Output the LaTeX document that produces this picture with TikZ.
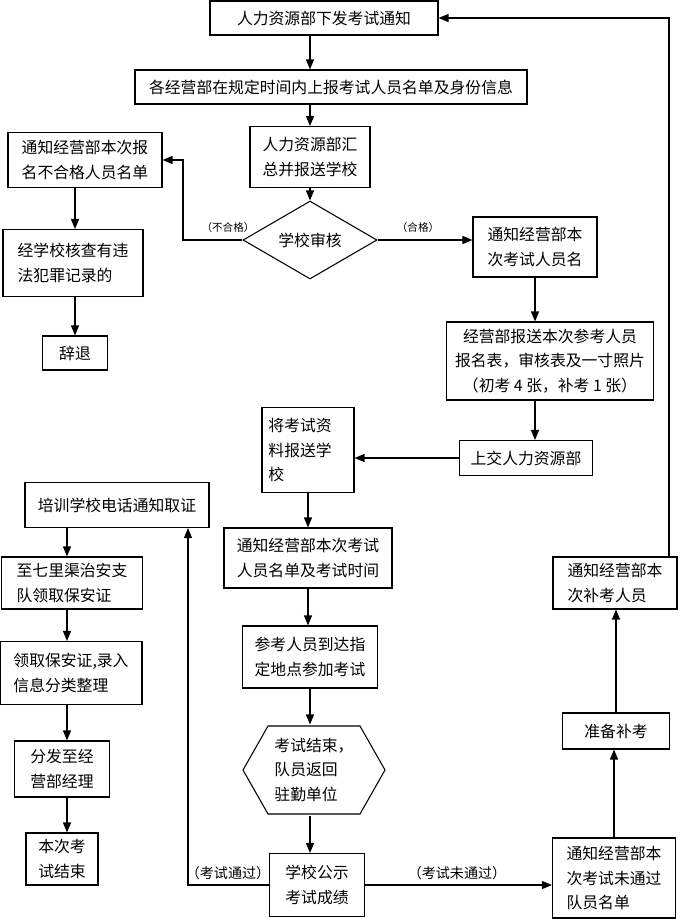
\documentclass[tikz,border=0pt]{standalone}
\usepackage{fontspec}
\newfontfamily\cjk{Noto Sans CJK SC}
\usetikzlibrary{arrows.meta,shapes.geometric}
\newcommand{\pxw}[1]{#1*0.03cm}
\tikzset{
	stepbox/.style={draw, line width=0.9pt, font=\cjk\fontsize{13.5}{21}\selectfont, align=left, inner sep=0pt},
	flow/.style={-{Triangle[length=0.3cm,width=0.24cm]}, line width=1pt},
	note/.style={font=\cjk\fontsize{9}{11}\selectfont},
	bignote/.style={font=\cjk\fontsize{12}{14}\selectfont},
}
\begin{document}
\begin{tikzpicture}[x=0.03cm, y=-0.03cm]
		\useasboundingbox (0,0) rectangle (684,919);
		\node (hr) at (324,18) [stepbox, minimum width=\pxw{228}, minimum height=\pxw{34}] {人力资源部下发考试通知};
		\node (report) at (331,87) [stepbox, minimum width=\pxw{392}, minimum height=\pxw{34}] {各经营部在规定时间内上报考试人员名单及身份信息};
		\node (collect) at (310,157) [stepbox, minimum width=\pxw{120}, minimum height=\pxw{61}] {人力资源部汇\\总并报送学校};
		\node (check) at (310,240) [diamond, draw, line width=0.9pt, inner sep=0pt, minimum width=\pxw{134}, minimum height=\pxw{56}, font=\cjk\fontsize{13.5}{21}\selectfont] {学校审核};
		\node (unfit) at (85,160) [stepbox, minimum width=\pxw{154}, minimum height=\pxw{55}] {通知经营部本次报\\名不合格人员名单};
		\node (crime) at (73,263) [stepbox, minimum width=\pxw{140}, minimum height=\pxw{67}] {经学校核查有违\\法犯罪记录的};
		\node (dismiss) at (75,353) [stepbox, minimum width=\pxw{65}, minimum height=\pxw{34}] {辞退};
		\node (notice) at (535,247) [stepbox, minimum width=\pxw{124}, minimum height=\pxw{60}] {通知经营部本\\次考试人员名};
		\node (submit) at (550,361) [stepbox, align=center, minimum width=\pxw{207}, minimum height=\pxw{78}] {经营部报送本次参考人员\\报名表，审核表及一寸照片\\（初考 4 张，补考 1 张）};
		\node (handin) at (526,458) [stepbox, minimum width=\pxw{133}, minimum height=\pxw{35}] {上交人力资源部};
		\node (send) at (308,450) [stepbox, minimum width=\pxw{92}, minimum height=\pxw{85}] {将考试资\\料报送学\\校\phantom{送学考试}};
		\node (cert) at (117,505) [stepbox, minimum width=\pxw{184}, minimum height=\pxw{45}] {培训学校电话通知取证};
		\node (inform) at (308,558) [stepbox, minimum width=\pxw{168}, minimum height=\pxw{60}] {通知经营部本次考试\\人员名单及考试时间};
		\node (arrive) at (310,657) [stepbox, minimum width=\pxw{135}, minimum height=\pxw{62}] {参考人员到达指\\定地点参加考试};
		\node (hex) at (314,770) [stepbox, draw=none, minimum width=\pxw{142}, minimum height=\pxw{90}] {考试结束，\\队员返回\\驻勤单位};
		\draw[line width=0.9pt] (243,770) -- (268,726) -- (360,726) -- (385,770) -- (360,814) -- (268,814) -- cycle;
		\node (publish) at (317,885) [stepbox, minimum width=\pxw{95}, minimum height=\pxw{63}] {学校公示\\考试成绩};
		\node (fail) at (614,878) [stepbox, minimum width=\pxw{123}, minimum height=\pxw{80}] {通知经营部本\\次考试未通过\\队员名单\phantom{考试}};
		\node (prep) at (616,731) [stepbox, minimum width=\pxw{107}, minimum height=\pxw{36}] {准备补考};
		\node (retake) at (615,583) [stepbox, minimum width=\pxw{124}, minimum height=\pxw{52}] {通知经营部本\\次补考人员};
		\node (station) at (72,583) [stepbox, minimum width=\pxw{141}, minimum height=\pxw{52}] {至七里渠治安支\\队领取保安证};
		\node (record) at (71,673) [stepbox, minimum width=\pxw{142}, minimum height=\pxw{63}] {领取保安证,录入\\信息分类整理};
		\node (hand) at (62,769) [stepbox, minimum width=\pxw{95}, minimum height=\pxw{56}] {分发至经\\营部经理};
		\node (finish) at (62,859) [stepbox, minimum width=\pxw{72}, minimum height=\pxw{52}] {本次考\\试结束};
		\coordinate (nofit) at (183,160);
		\coordinate (passturn) at (188,882);
		\coordinate (loop) at (669,20);
		\coordinate (leftcol) at (67,0);
		\draw[flow] (hr.south -| collect) -- (report.north -| collect);
		\draw[flow] (report.south -| collect) -- (collect.north);
		\draw[flow] (collect.south) -- (check.north);
		\draw[flow] (check.west) -| (nofit) -- (unfit.east);
		\node (notfit) at (228,227) [note] {（不合格）};
		\draw[flow] (check.east) -- (check.east -| notice.west);
		\node (fit) at (418,227) [note] {（合格）};
		\draw[flow] (unfit.south -| dismiss) -- (crime.north -| dismiss);
		\draw[flow] (crime.south -| dismiss) -- (dismiss.north);
		\draw[flow] (notice.south) -- (notice.south |- submit.north);
		\draw[flow] (submit.south -| notice) -- (handin.north -| notice);
		\draw[flow] (handin.west) -- (handin.west -| send.east);
		\draw[flow] (send.south) -- (send.south |- inform.north);
		\draw[flow] (inform.south) -- (inform.south |- arrive.north);
		\draw[flow] (arrive.south) -- (arrive.south |- hex.north);
		\draw[flow] (hex.south -| arrive) -- (publish.north -| arrive);
		\draw[flow] (publish.west) -| (passturn |- cert.south);
		\node (passed) at (228,873) [bignote] {（考试通过）};
		\draw[flow] (publish.east) -- (publish.east -| fail.west);
		\node (failed) at (457,873) [bignote] {（考试未通过）};
		\draw[flow] (fail.north) -- (fail.north |- prep.south);
		\draw[flow] (prep.north) -- (prep.north |- retake.south);
		\draw[flow] (retake.north -| loop) |- (hr.east);
		\draw[flow] (cert.south -| leftcol) -- (station.north -| leftcol);
		\draw[flow] (station.south -| leftcol) -- (record.north -| leftcol);
		\draw[flow] (record.south -| leftcol) -- (hand.north -| leftcol);
		\draw[flow] (hand.south -| leftcol) -- (finish.north -| leftcol);
	\end{tikzpicture}
\end{document}
